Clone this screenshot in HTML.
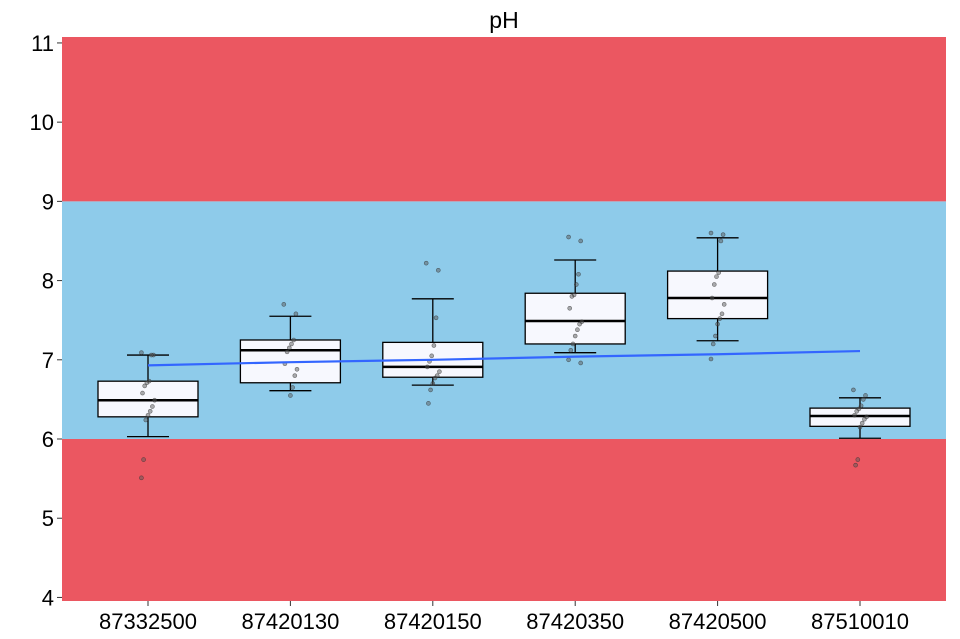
<!DOCTYPE html>
<html><head><meta charset="utf-8">
<style>
body{margin:0;background:#fff;}
svg{display:block;font-family:"Liberation Sans",sans-serif;}
</style></head><body>
<svg id="chart" width="960" height="639"></svg>
<script>
const categories=["87332500","87420130","87420150","87420350","87420500","87510010"];
const whiskerLow=[6.03,6.61,6.68,7.09,7.24,6.01];
const q1=[6.28,6.71,6.78,7.20,7.52,6.16];
const median=[6.49,7.12,6.91,7.49,7.78,6.29];
const q3=[6.73,7.25,7.22,7.84,8.12,6.39];
const whiskerHigh=[7.06,7.55,7.77,8.26,8.54,6.52];
const trend=[6.93,6.97,7.00,7.04,7.07,7.11];
const points=[
 [7.09,7.06,7.06,6.73,6.71,6.67,6.58,6.49,6.41,6.35,6.30,6.24,5.74,5.51],
 [7.70,7.58,7.25,7.20,7.15,7.10,6.95,6.88,6.80,6.65,6.55],
 [8.22,8.13,7.53,7.18,7.05,6.98,6.91,6.85,6.80,6.77,6.70,6.62,6.45],
 [8.55,8.50,8.08,7.95,7.82,7.80,7.65,7.48,7.45,7.38,7.30,7.20,7.12,7.00,6.96],
 [8.60,8.58,8.50,8.10,8.05,7.95,7.78,7.70,7.58,7.52,7.45,7.30,7.20,7.01],
 [6.62,6.55,6.50,6.42,6.38,6.35,6.30,6.28,6.25,6.20,6.15,5.74,5.67]
];
const yTicks=[4,5,6,7,8,9,10,11];
const bands=[{lo:3.9,hi:6,c:"#EB5761"},{lo:6,hi:9,c:"#8ECBEA"},{lo:9,hi:11.1,c:"#EB5761"}];

const NS="http://www.w3.org/2000/svg";
const svg=document.getElementById('chart');
const L=62,R=946,T=37,B=601,vMin=3.955,vMax=11.075;
const y=v=>B-(v-vMin)/(vMax-vMin)*(B-T);
const step=142.4,x0=148;
const x=i=>x0+step*i;
function mk(t,a,p){const e=document.createElementNS(NS,t);for(const k in a)e.setAttribute(k,a[k]);(p||svg).appendChild(e);return e;}

const t=mk('text',{x:504,y:28,'font-size':23,'text-anchor':'middle',fill:'#000'});


t.textContent='pH';

bands.forEach((b,i)=>{
 const r=mk('rect',{x:L,y:y(Math.min(b.hi,vMax)),width:R-L,height:y(Math.max(b.lo,vMin))-y(Math.min(b.hi,vMax)),fill:b.c});
 
 
});

yTicks.forEach(v=>{
 mk('line',{x1:L-5,x2:L,y1:y(v),y2:y(v),stroke:'#333','stroke-width':1});
 const tx=mk('text',{x:L-8,y:y(v)+8,'font-size':22,'text-anchor':'end',fill:'#000'});
 
 
 tx.textContent=v;
});

categories.forEach((c,i)=>{
 const cx=x(i),hw=50;
 const g=mk('g',{});
 
 
 mk('line',{x1:cx,x2:cx,y1:y(whiskerHigh[i]),y2:y(q3[i]),stroke:'#000','stroke-width':1.3},g);
 mk('line',{x1:cx,x2:cx,y1:y(q1[i]),y2:y(whiskerLow[i]),stroke:'#000','stroke-width':1.3},g);
 mk('line',{x1:cx-21,x2:cx+21,y1:y(whiskerHigh[i]),y2:y(whiskerHigh[i]),stroke:'#000','stroke-width':1.3},g);
 mk('line',{x1:cx-21,x2:cx+21,y1:y(whiskerLow[i]),y2:y(whiskerLow[i]),stroke:'#000','stroke-width':1.3},g);
 mk('rect',{x:cx-hw,y:y(q3[i]),width:2*hw,height:y(q1[i])-y(q3[i]),fill:'#F7F8FE',stroke:'#000','stroke-width':1.3},g);
 mk('line',{x1:cx-hw,x2:cx+hw,y1:y(median[i]),y2:y(median[i]),stroke:'#000','stroke-width':2.5},g);
 points[i].forEach((v,j)=>{
  const off=((j*37)%13-6)*1.1;
  const p=mk('circle',{cx:cx+off,cy:y(v),r:2,fill:'rgba(90,90,90,0.5)',stroke:'rgba(40,40,40,0.6)','stroke-width':0.6},g);
  
  
 });
 mk('line',{x1:cx,x2:cx,y1:B,y2:B+5,stroke:'#333','stroke-width':1});
 const lx=mk('text',{x:cx,y:629,'font-size':22,'text-anchor':'middle',fill:'#000'});
 
 
 lx.textContent=c;
});

const tl=mk('polyline',{points:trend.map((v,i)=>x(i)+','+y(v)).join(' '),fill:'none',stroke:'#3366FF','stroke-width':2.2});


</script>
</body></html>
